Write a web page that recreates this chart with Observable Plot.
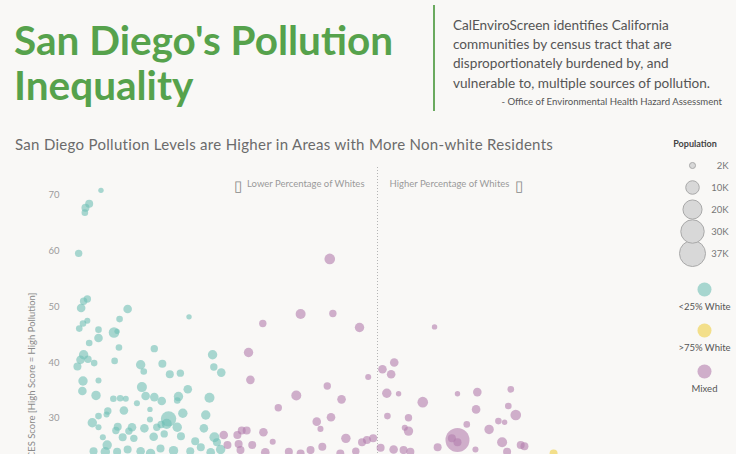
<!DOCTYPE html>
<html><head><meta charset="utf-8">
<script src="https://cdn.jsdelivr.net/npm/d3@7"></script>
<script src="https://cdn.jsdelivr.net/npm/@observablehq/plot@0.6"></script>
<style>
html,body{margin:0;padding:0;background:#f9f8f6;font-family:Lato,sans-serif}
#page{position:relative;width:736px;height:454px;overflow:hidden;background:#f9f8f6}
.abs{position:absolute}
#title{left:14px;top:17px;font-size:40.5px;line-height:45px;font-weight:700;color:#56a24c;white-space:nowrap}
#vline{left:433px;top:5px;width:1.5px;height:106px;background:#6aaa5f}
#desc{left:453px;top:16px;font-size:13.6px;line-height:19.2px;color:#555;white-space:nowrap}
#source{left:400px;width:322px;text-align:right;top:97px;font-size:9.6px;line-height:1;color:#555;white-space:nowrap}
#subtitle{left:15px;top:137px;font-size:15px;letter-spacing:0.3px;line-height:1;color:#6b6b6b;white-space:nowrap}
#poptitle{left:650px;width:90px;text-align:center;top:139px;font-size:9px;line-height:1;font-weight:700;color:#444}
#chart{left:0;top:157px}
#sizeLegend{left:650px;top:150px}
#colorLegend{left:650px;top:275px}
</style></head>
<body>
<div id="page">
  <div id="title" class="abs">San Diego's Pollution<br>Inequality</div>
  <div id="vline" class="abs"></div>
  <div id="desc" class="abs">CalEnviroScreen identifies California<br>communities by census tract that are<br>disproportionately burdened by, and<br>vulnerable to, multiple sources of pollution.</div>
  <div id="source" class="abs">- Office of Environmental Health Hazard Assessment</div>
  <div id="subtitle" class="abs">San Diego Pollution Levels are Higher in Areas with More Non-white Residents</div>
  <div id="chart" class="abs"></div>
  <div id="poptitle" class="abs">Population</div>
  <div id="sizeLegend" class="abs"></div>
  <div id="colorLegend" class="abs"></div>
</div>
<script>
// ---- Data: [percent white, CES score, population] ----
const groups = ["<25% White", ">75% White", "Mixed"];
const groupColors = ["#6fbfb5", "#efce42", "#b37dae"];

const lowWhite = [
  [5.4,70.9,1600],[3.5,68.5,3500],[2.9,67.8,3500],[2.8,66.9,2400],[1.8,59.6,3000],
  [3.2,51.4,3000],[2.6,51.0,3000],[2.2,49.8,4050],[9.7,49.6,4050],[8.4,47.8,2400],[19.6,48.2,1600],
  [3.2,47.5,2000],[2.5,47.0,2400],[1.9,46.1,2400],[5.0,45.9,2400],[7.5,45.4,6150],[8.0,45.6,1600],
  [5.0,44.4,4050],[3.5,43.5,2400],[8.3,42.7,2400],[14.0,42.5,3000],[2.6,41.4,4850],[2.1,40.5,4050],
  [3.3,40.6,3000],[4.3,39.9,2400],[1.6,39.3,3500],[7.6,40.3,2400],[11.8,39.6,4850],[12.3,38.4,2400],
  [15.3,39.8,3500],[16.5,37.9,3500],[18.2,38.1,3000],[23.4,41.4,4850],[23.6,39.2,3000],[24.8,38.2,4050],
  [2.5,36.7,4850],[5.0,36.8,2000],[2.4,34.9,4050],[4.6,34.1,4850],[12.0,35.6,5500],[12.6,34.0,4050],
  [14.0,33.8,4050],[15.2,33.1,4050],[17.9,33.9,4850],[19.4,35.2,4050],[17.7,33.2,2400],[22.9,33.7,5500],
  [7.4,33.5,2400],[8.5,33.6,2400],[9.4,33.5,2000],[11.2,32.7,2000],[9.1,31.4,4050],[13.3,31.6,1600],
  [18.6,30.9,4850],[22.3,30.6,4850],[6.5,31.3,3000],[6.3,30.7,2000],[5.0,30.4,2400],[4.0,29.2,4850],
  [5.0,28.4,2000],[16.3,29.9,13000],[16.0,29.0,5500],[13.3,29.8,2000],[15.1,28.9,3000],[17.7,28.4,4850],
  [8.1,28.5,3500],[7.8,27.8,3000],[10.4,28.4,4050],[9.9,27.7,3000],[12.4,28.2,4050],[14.4,28.4,3000],
  [22.0,28.2,4050],[5.7,26.6,2000],[8.9,26.6,3500],[10.7,26.4,3000],[13.9,26.7,4050],[15.6,27.2,3000],
  [18.3,26.8,3500],[20.6,25.9,3500],[23.7,26.6,5500],[24.1,25.7,3500],[6.4,25.2,4850],
  [4.2,24.1,3500],[6.1,24.0,4850],[8.0,24.0,3500],[9.7,24.4,3500],[11.8,24.1,4050],[13.4,23.7,4850],
  [15.0,24.6,3500],[17.1,24.2,4850],[19.8,24.1,3500],[21.5,24.8,3500],[23.1,23.9,4050],[24.7,24.4,4850]
];

const highWhite = [
  [78.4,23.7,3500]
];

const mixed = [
  [42.3,58.6,6150],[37.6,48.7,5500],[42.8,48.8,3000],[31.5,47.0,3000],[47.1,46.3,4850],[59.2,46.4,1600],
  [29.2,41.8,4850],[29.5,36.9,4050],[48.5,37.4,2000],[41.9,35.8,3000],[36.9,34.1,5500],[44.2,33.4,4050],
  [34.0,31.9,3000],[40.2,29.4,4050],[42.5,30.2,4050],[40.8,28.1,2000],[31.6,27.5,4050],[28.9,27.8,3500],
  [28.1,27.8,3500],[27.4,27.0,3500],[33.1,25.8,2000],[44.9,26.4,4850],[47.5,25.7,3500],[48.3,26.1,3500],
  [25.2,27.0,4050],[29.8,25.2,3500],[25.8,25.2,3500],[27.6,25.4,3500],
  [52.7,40.0,4050],[50.8,38.8,4050],[52.2,37.9,4050],[51.5,34.5,4850],[53.4,34.4,1600],[57.3,32.9,6150],
  [62.9,34.4,1600],[66.1,34.7,4050],[71.5,35.2,2400],[65.9,31.6,4050],[71.1,32.2,2400],[72.3,30.6,6150],
  [51.6,30.4,2400],[55.0,30.1,3000],[64.4,28.9,2400],[69.5,29.5,2400],[70.5,29.3,1600],[68.0,28.0,4850],
  [54.4,28.3,2000],[55.0,27.7,4850],[62.9,26.1,31500],[62.0,26.4,3500],[62.9,25.7,3500],[70.1,25.7,5500],
  [73.1,25.2,3500],[73.7,25.0,3500],[59.7,24.8,3500],[49.3,26.4,3500],[50.5,24.7,3500],[52.6,24.4,4050],
  [54.2,24.3,3500],[55.3,24.0,3500],[65.8,24.4,2000],[70.9,24.0,3500],[39.2,24.3,3500],[41.1,24.9,3500],
  [35.7,24.0,3500],[31.9,23.9,4050],[27.9,24.3,3500],[37.6,23.7,3500],[44.0,23.7,3500],[46.5,24.1,3000]
];

const yTicks = [30, 40, 50, 60, 70];
const yLabel = "CES Score [High Score = High Pollution]";
const leftNote = "Lower Percentage of Whites";
const rightNote = "Higher Percentage of Whites";
const noteIcon = "\u25AF";
const sizeLabels = ["2K", "10K", "20K", "30K", "37K"];
const sizeValues = [2000, 10000, 20000, 30000, 37000];

// ---- Build table ----
const toRows = (arr, g) => arr.map(([pct, score, pop]) => ({pct, score, pop, group: g}));
const points = d3.sort(
  [...toRows(lowWhite, groups[0]), ...toRows(highWhite, groups[1]), ...toRows(mixed, groups[2])],
  (a, b) => b.pop - a.pop
);

const rScale = {type: "sqrt", domain: [0, 37000], range: [0, 13]};
const colorScale = {domain: groups, range: groupColors};
const divider = 50;

const chart = Plot.plot({
  width: 736, height: 468,
  marginLeft: 67, marginRight: 49, marginTop: 10, marginBottom: 40,
  style: {background: "transparent", fontFamily: "Lato, sans-serif", color: "#9b9b9b"},
  x: {domain: [0, 100], axis: null},
  y: {domain: [0, 75], axis: null},
  r: rScale,
  color: colorScale,
  marks: [
    Plot.ruleX([divider], {stroke: "#b5b5b5", strokeDasharray: "1,2", strokeWidth: 1}),
    Plot.dot(points, {x: "pct", y: "score", r: "pop", fill: "group", fillOpacity: 0.6}),
    Plot.axisY({ticks: yTicks, tickSize: 0, tickPadding: 8, fontSize: 9.5, label: null}),
    Plot.text([leftNote], {x: () => divider, text: d => d, frameAnchor: "top", dy: 13, dx: -13, textAnchor: "end", fontSize: 9.5, fill: "#9a9a9a"}),
    Plot.text([rightNote], {x: () => divider, text: d => d, frameAnchor: "top", dy: 13, dx: 12, textAnchor: "start", fontSize: 9.5, fill: "#9a9a9a"}),
    Plot.text([noteIcon], {x: () => divider, text: d => d, frameAnchor: "top", dy: 13, dx: -140, textAnchor: "middle", fontSize: 15, fill: "#888"}),
    Plot.text([noteIcon], {x: () => divider, text: d => d, frameAnchor: "top", dy: 13, dx: 141, textAnchor: "middle", fontSize: 15, fill: "#888"}),
    Plot.text([yLabel], {text: d => d, frameAnchor: "top-left", rotate: -90, dx: -39, dy: 125, textAnchor: "end", fontSize: 9.5, fill: "#8a8a8a"})
  ]
});
document.getElementById("chart").append(chart);

// ---- Size legend ----
const sizeData = sizeLabels.map((label, i) => ({label, pop: sizeValues[i]}));
const sizeLegend = Plot.plot({
  width: 86, height: 115,
  marginLeft: 0, marginRight: 0, marginTop: 0, marginBottom: 0,
  style: {background: "transparent", fontFamily: "Lato, sans-serif", overflow: "visible"},
  y: {type: "point", domain: sizeLabels, range: [13, 104], padding: 0, axis: null},
  r: rScale,
  marks: [
    Plot.dot(sizeData, {y: "label", r: "pop", frameAnchor: "left", dx: 42, fill: "#d8d8d8", stroke: "#a9a9a9", strokeWidth: 1}),
    Plot.text(sizeData, {y: "label", text: "label", frameAnchor: "right", dx: -8, textAnchor: "end", fontSize: 9.5, fill: "#777"})
  ]
});
document.getElementById("sizeLegend").append(sizeLegend);

// ---- Color legend ----
const colorLegend = Plot.plot({
  width: 86, height: 120,
  marginLeft: 0, marginRight: 0, marginTop: 0, marginBottom: 0,
  style: {background: "transparent", fontFamily: "Lato, sans-serif", overflow: "visible"},
  y: {type: "point", domain: groups, range: [14, 96], padding: 0, axis: null},
  color: colorScale,
  marks: [
    Plot.dot(groups, {y: d => d, r: 7, fill: d => d, fillOpacity: 0.6, frameAnchor: "left", dx: 54}),
    Plot.text(groups, {y: d => d, text: d => d, frameAnchor: "left", dx: 54, dy: 17, textAnchor: "middle", fontSize: 9.5, fill: "#555"})
  ]
});
document.getElementById("colorLegend").append(colorLegend);
</script>
</body></html>
